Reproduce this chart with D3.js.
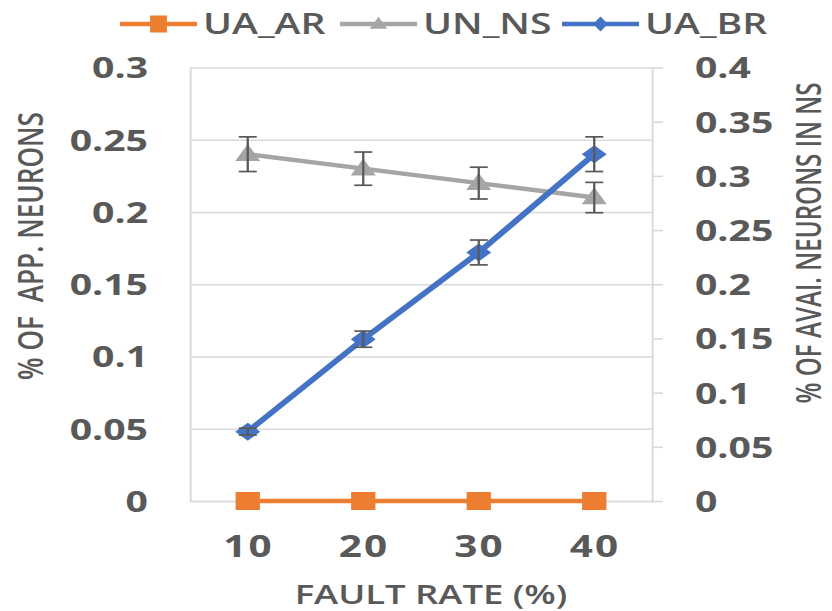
<!DOCTYPE html>
<html>
<head>
<meta charset="utf-8">
<script src="https://cdn.jsdelivr.net/npm/d3@7"></script>
<style>
  html, body { margin: 0; padding: 0; background: #ffffff; }
  svg { display: block; }
  text { font-family: "Open Sans", "DejaVu Sans", sans-serif; fill: #595959; }
</style>
</head>
<body>
<svg id="chart" width="832" height="611"></svg>
<script>
// ---- data ----
const categories = ["10", "20", "30", "40"];
const seriesNames = ["UA_AR", "UN_NS", "UA_BR"];
const uaAR = [0, 0, 0, 0];
const unNS = [0.24, 0.23, 0.22, 0.21];
const unNSErr = [0.012, 0.0115, 0.011, 0.0105];
const uaBR = [0.048, 0.112, 0.172, 0.24];
const uaBRErr = [0.0024, 0.0056, 0.0086, 0.012];
const leftTicks = [0, 0.05, 0.1, 0.15, 0.2, 0.25, 0.3];
const leftTickLabels = ["0", "0.05", "0.1", "0.15", "0.2", "0.25", "0.3"];
const rightTicks = [0, 0.05, 0.1, 0.15, 0.2, 0.25, 0.3, 0.35, 0.4];
const rightTickLabels = ["0", "0.05", "0.1", "0.15", "0.2", "0.25", "0.3", "0.35", "0.4"];
const xTitle = "FAULT RATE (%)";
const yLeftTitle = "% OF  APP. NEURONS";
const yRightTitle = "% OF AVAI. NEURONS IN NS";

// ---- layout (the drawing is widened horizontally by SX) ----
const SX = 1.35;
const vx = v => v / SX;
const X0 = vx(190), X1 = vx(652), Y0 = 501, Y1 = 67.5;
const colors = { UA_AR: "#ED7D31", UN_NS: "#A5A5A5", UA_BR: "#4472C4" };
const gridColor = "#d9d9d9";

const svg = d3.select("#chart");
svg.append("rect").attr("width", 832).attr("height", 611).attr("fill", "#fff");
const g = svg.append("g").attr("transform", `scale(${SX},1)`);

const x = d3.scalePoint().domain(categories).range([X0, X1]).padding(0.5);
const yL = d3.scaleLinear().domain([0, 0.3]).range([Y0, Y1]);
const yR = d3.scaleLinear().domain([0, 0.4]).range([Y0, Y1]);

// gridlines
g.append("g")
  .attr("transform", `translate(${X0},0)`)
  .call(d3.axisLeft(yL).tickValues(leftTicks).tickSize(-(X1 - X0)).tickFormat(""))
  .call(a => a.select(".domain").remove())
  .call(a => a.selectAll(".tick line").attr("stroke", gridColor).attr("stroke-width", 1.6));

// left axis
g.append("g")
  .attr("transform", `translate(${X0},0)`)
  .call(d3.axisLeft(yL).tickValues(leftTicks).tickSizeInner(0).tickSizeOuter(0)
    .tickPadding(vx(42)).tickFormat((d, i) => leftTickLabels[i]))
  .call(a => a.select(".domain").attr("stroke", gridColor).attr("stroke-width", 1.4))
  .call(a => a.selectAll(".tick text")
    .attr("font-size", 29).attr("font-weight", 700).attr("fill", "#595959")
    .attr("font-family", "'Open Sans', sans-serif").attr("dy", "0.36em"));

// right axis
g.append("g")
  .attr("transform", `translate(${X1},0)`)
  .call(d3.axisRight(yR).tickValues(rightTicks).tickSizeInner(vx(11)).tickSizeOuter(0)
    .tickPadding(vx(32)).tickFormat((d, i) => rightTickLabels[i]))
  .call(a => a.select(".domain").attr("stroke", gridColor).attr("stroke-width", 1.4))
  .call(a => a.selectAll(".tick line").attr("stroke", gridColor).attr("stroke-width", 1.6))
  .call(a => a.selectAll(".tick text")
    .attr("font-size", 29).attr("font-weight", 700).attr("fill", "#595959")
    .attr("font-family", "'Open Sans', sans-serif").attr("dy", "0.36em"));

// bottom axis
g.append("g")
  .attr("transform", `translate(0,${Y0})`)
  .call(d3.axisBottom(x).tickSizeInner(0).tickSizeOuter(0))
  .call(a => a.select(".domain").attr("stroke", gridColor).attr("stroke-width", 1.6))
  .call(a => a.selectAll(".tick text")
    .attr("y", 45).attr("dy", "0.36em")
    .attr("font-size", 30).attr("font-weight", 700).attr("fill", "#595959")
    .attr("letter-spacing", 1.5)
    .attr("font-family", "'Open Sans', sans-serif"));

// axis titles
g.append("text")
  .attr("x", vx(431)).attr("y", 604)
  .attr("text-anchor", "middle")
  .attr("font-size", 27).attr("font-weight", 600)
  .text(xTitle);

// rotated titles: anchored on their baseline
g.append("text")
  .attr("transform", `translate(${vx(43)},246) rotate(-90)`)
  .attr("text-anchor", "middle")
  .attr("font-size", 26).attr("font-weight", 600)
  .style("white-space", "pre")
  .attr("textLength", 268).attr("lengthAdjust", "spacingAndGlyphs")
  .text(yLeftTitle);

g.append("text")
  .attr("transform", `translate(${vx(821)},243) rotate(-90)`)
  .attr("text-anchor", "middle")
  .attr("font-size", 26).attr("font-weight", 600)
  .attr("textLength", 321).attr("lengthAdjust", "spacingAndGlyphs")
  .text(yRightTitle);

// marker shapes
const rect = (w, h) => ({ draw(c) { c.rect(-w / 2, -h / 2, w, h); } });
const tri = (w, h) => ({ draw(c) { c.moveTo(0, -h * 0.6); c.lineTo(w / 2, h * 0.4); c.lineTo(-w / 2, h * 0.4); c.closePath(); } });
const dia = (w, h) => ({ draw(c) { c.moveTo(0, -h / 2); c.lineTo(w / 2, 0); c.lineTo(0, h / 2); c.lineTo(-w / 2, 0); c.closePath(); } });

const seriesDefs = [
  { name: "UA_AR", values: uaAR, err: null, y: yR, width: 4.5, marker: rect(18, 18), legendMarker: rect(12.5, 17) },
  { name: "UN_NS", values: unNS, err: unNSErr, y: yL, width: 4.5, marker: tri(18.5, 17), legendMarker: tri(13, 12) },
  { name: "UA_BR", values: uaBR, err: uaBRErr, y: yL, width: 5, marker: dia(18.5, 18), legendMarker: dia(11, 15) }
];

const line = (ys) => d3.line().x((d, i) => x(categories[i])).y(d => ys(d));

seriesDefs.forEach(s => {
  const sg = g.append("g");
  sg.append("path")
    .datum(s.values)
    .attr("d", line(s.y))
    .attr("fill", "none")
    .attr("stroke", colors[s.name])
    .attr("stroke-width", s.width)
    .attr("stroke-linejoin", "round");

  sg.selectAll("path.mk")
    .data(s.values)
    .join("path")
    .attr("class", "mk")
    .attr("transform", (d, i) => `translate(${x(categories[i])},${s.y(d)})`)
    .attr("d", d3.symbol().type(s.marker))
    .attr("fill", colors[s.name]);

  if (s.err) {
    const cap = vx(9);
    const eb = sg.selectAll("g.eb")
      .data(s.values.map((v, i) => ({ v, e: s.err[i], c: categories[i] })))
      .join("g").attr("class", "eb")
      .attr("stroke", "#595959").attr("stroke-width", 1.7);
    eb.append("line")
      .attr("x1", d => x(d.c)).attr("x2", d => x(d.c))
      .attr("y1", d => s.y(d.v - d.e)).attr("y2", d => s.y(d.v + d.e));
    eb.append("line")
      .attr("x1", d => x(d.c) - cap).attr("x2", d => x(d.c) + cap)
      .attr("y1", d => s.y(d.v + d.e)).attr("y2", d => s.y(d.v + d.e));
    eb.append("line")
      .attr("x1", d => x(d.c) - cap).attr("x2", d => x(d.c) + cap)
      .attr("y1", d => s.y(d.v - d.e)).attr("y2", d => s.y(d.v - d.e));
  }
});

// legend
const legendStarts = [120, 340, 562];
const legendY = 24;
seriesDefs.forEach((s, i) => {
  const lx = legendStarts[i];
  const lg = g.append("g");
  lg.append("line")
    .attr("x1", vx(lx)).attr("x2", vx(lx + 77))
    .attr("y1", legendY).attr("y2", legendY)
    .attr("stroke", colors[s.name]).attr("stroke-width", 4.5);
  lg.append("path")
    .attr("transform", `translate(${vx(lx + 38.5)},${legendY})`)
    .attr("d", d3.symbol().type(s.legendMarker))
    .attr("fill", colors[s.name]);
  lg.append("text")
    .attr("x", vx(lx + 83)).attr("y", 34)
    .attr("font-size", 29).attr("font-weight", 600)
    .text(s.name);
});
</script>
</body>
</html>
